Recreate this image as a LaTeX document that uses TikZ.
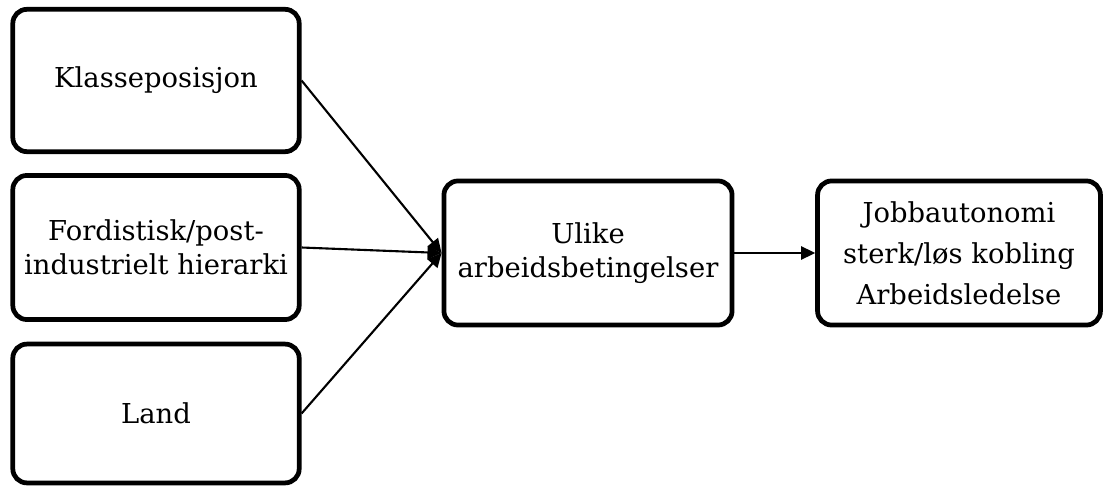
\documentclass[tikz,border=0pt]{standalone}
\usepackage{fontspec}
\setmainfont{DejaVu Serif}
\usetikzlibrary{arrows.meta}

\begin{document}
\begin{tikzpicture}[
    x=0.02cm,y=-0.02cm,
    >={Triangle[length=8pt,width=7.5pt]},
    box/.style={draw,line width=2.7pt,rounded corners=8pt,align=center,
                font=\fontsize{15.6}{19.5}\selectfont,inner sep=0pt},
    ar/.style={->,line width=1.2pt},
  ]
  \useasboundingbox (0,0) rectangle (1104,486);

  % ---------- INPUTS (left) ----------
  \node[box,minimum width=163pt,minimum height=81pt] (klasse) at (156,80.5)
        {Klasseposisjon};
  \node[box,minimum width=163pt,minimum height=82pt] (hier)   at (156,247.5)
        {Fordistisk/post-\\industrielt hierarki};
  \node[box,minimum width=163pt,minimum height=79pt] (land)   at (156,413.5)
        {Land};

  % ---------- MIDDLE ----------
  \node[box,minimum width=164pt,minimum height=82pt] (arb) at (588,253)
        {Ulike\\arbeidsbetingelser};

  % ---------- OUTCOME ----------
  \node[box,minimum width=161pt,minimum height=82pt,
        font=\fontsize{15.6}{23.3}\selectfont] (jobb) at (959,253)
        {Jobbautonomi\\sterk/løs kobling\\Arbeidsledelse};

  \draw[ar] (klasse.east) -- (arb.west);
  \draw[ar] (hier.east)   -- (arb.west);
  \draw[ar] (land.east)   -- (arb.west);
  \draw[ar] (arb.east)    -- (jobb.west);

\end{tikzpicture}
\end{document}
